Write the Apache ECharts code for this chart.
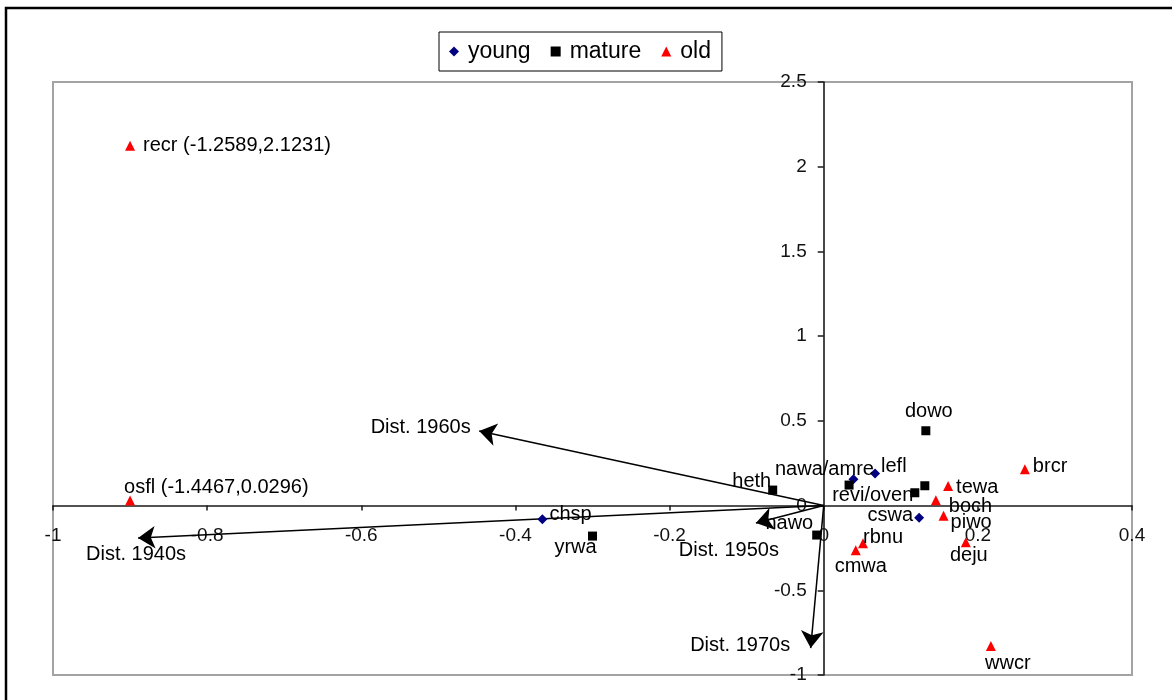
<!DOCTYPE html>
<html><head><meta charset="utf-8">
<script src="https://cdn.jsdelivr.net/npm/echarts@6/dist/echarts.min.js"></script>
<style>html,body{margin:0;padding:0;background:#fff}#c{width:1172px;height:700px}</style>
</head><body><div id="c"></div>
<script>
// ---- data ----
const youngPoints = [
  [0.0386, 0.156, 'nawa/amre'],
  [0.0666, 0.190, 'lefl'],
  [0.1238, -0.072, 'cswa'],
  [-0.365, -0.080, 'chsp']
];
const maturePoints = [
  [0.0329, 0.121, ''],
  [0.1325, 0.4416, 'dowo'],
  [0.1312, 0.117, ''],
  [0.1182, 0.0756, 'revi/oven'],
  [-0.0662, 0.0915, 'heth'],
  [-0.0091, -0.174, 'nawo'],
  [-0.300, -0.180, 'yrwa']
];
const oldPoints = [
  [-0.9, 2.1231, 'recr (-1.2589,2.1231)'],
  [-0.9, 0.0296, 'osfl (-1.4467,0.0296)'],
  [0.261, 0.215, 'brcr'],
  [0.1614, 0.115, 'tewa'],
  [0.1455, 0.032, 'boch'],
  [0.1555, -0.060, 'piwo'],
  [0.1844, -0.217, 'deju'],
  [0.051, -0.223, 'rbnu'],
  [0.0416, -0.263, 'cmwa'],
  [0.2169, -0.829, 'wwcr']
];
const vectors = [
  ['Dist. 1940s', -0.8896, -0.192],
  ['Dist. 1950s', -0.088, -0.103],
  ['Dist. 1960s', -0.447, 0.44],
  ['Dist. 1970s', -0.0169, -0.841]
];
const xTicks = { min: -1, max: 0.4, step: 0.2 };
const yTicks = { min: -1, max: 2.5, step: 0.5 };

// ---- label placement (layout only) ----
const labelPlacement = {
  'recr (-1.2589,2.1231)': ['right', 3, 0],
  'osfl (-1.4467,0.0296)': ['right', -16, -13],
  'dowo': ['top', 3, 0],
  'lefl': ['right', -4, -7],
  'nawa/amre': ['top', -29, 10],
  'revi/oven': ['left', 8, 3],
  'tewa': ['right', -2, 1],
  'boch': ['right', 3, 6],
  'piwo': ['right', -3, 7],
  'deju': ['bottom', 3, -7],
  'cswa': ['left', 4, -2],
  'rbnu': ['right', -10, -6],
  'cmwa': ['bottom', 5, -4],
  'brcr': ['right', -2, -3],
  'nawo': ['left', 6, -12],
  'yrwa': ['bottom', -17, -8],
  'chsp': ['right', -3, -5],
  'wwcr': ['bottom', 17, -3],
  'heth': ['left', 8, -9],
  'Dist. 1960s': ['left', -3, -4],
  'Dist. 1940s': ['bottom', -2, 1],
  'Dist. 1950s': ['bottom', -27, 12],
  'Dist. 1970s': ['left', -15, -3]
};

const FONT = '"Liberation Sans", Arial, sans-serif';
const W = 1172, H = 700;
const G = { left: 53, right: 40, top: 82, bottom: 25 };
const gw = W - G.left - G.right, gh = H - G.top - G.bottom;
// place axes through the origin (offset from grid edge)
const yAxisOffset = -gw * (0 - xTicks.min) / (xTicks.max - xTicks.min);
const xAxisOffset = -gh * (0 - yTicks.min) / (yTicks.max - yTicks.min);

function toItems(points) {
  return points.map(p => {
    const pl = labelPlacement[p[2]];
    return {
      value: [p[0], p[1]],
      name: p[2],
      label: pl ? { show: true, position: pl[0], offset: [pl[1], pl[2]] } : { show: false }
    };
  });
}
const labelBase = { show: true, formatter: '{b}', color: '#000', fontSize: 20, fontFamily: FONT, distance: 5 };
const AXIS_COLOR = '#1a1a1a';

const chart = echarts.init(document.getElementById('c'), null, { renderer: 'canvas' });
chart.setOption({
  animation: false,
  backgroundColor: '#fff',
  graphic: [{
    type: 'rect', z: 100, silent: true,
    shape: { x: 6, y: 8, width: 1300, height: 800 },
    style: { fill: 'none', stroke: '#000', lineWidth: 2.5 }
  }],
  legend: {
    data: [
      { name: 'young', icon: 'diamond' },
      { name: 'mature', icon: 'rect' },
      { name: 'old', icon: 'triangle' }
    ],
    left: 439, top: 32,
    padding: [8, 11, 8, 10],
    itemWidth: 10, itemHeight: 10, itemGap: 20,
    borderColor: '#000', borderWidth: 1,
    textStyle: { fontSize: 23, fontFamily: FONT, color: '#000', padding: [0, 0, 0, 4] }
  },
  grid: {
    left: G.left, right: G.right, top: G.top, bottom: G.bottom,
    outerBoundsMode: 'none', containLabel: false,
    show: true, borderColor: '#a3a3a3', borderWidth: 2, backgroundColor: '#fff'
  },
  xAxis: {
    type: 'value', min: xTicks.min, max: xTicks.max, interval: xTicks.step,
    position: 'bottom', offset: xAxisOffset,
    axisLine: { onZero: false, lineStyle: { color: AXIS_COLOR, width: 1.6 } },
    axisTick: { show: true, length: 5, lineStyle: { color: AXIS_COLOR, width: 1.5 } },
    axisLabel: { fontSize: 19, fontFamily: FONT, color: '#111', margin: 21 },
    splitLine: { show: false }
  },
  yAxis: {
    type: 'value', min: yTicks.min, max: yTicks.max, interval: yTicks.step,
    position: 'left', offset: yAxisOffset,
    axisLine: { onZero: false, lineStyle: { color: AXIS_COLOR, width: 1.6 } },
    axisTick: { show: true, length: 6, lineStyle: { color: AXIS_COLOR, width: 1.5 } },
    axisLabel: { fontSize: 19, fontFamily: FONT, color: '#111', margin: 17 },
    splitLine: { show: false }
  },
  series: [
    {
      type: 'lines', coordinateSystem: 'cartesian2d', z: 3,
      symbol: ['none', 'arrow'], symbolSize: 17,
      lineStyle: { color: '#000', width: 1.5, opacity: 1, curveness: 0 },
      data: vectors.map(v => ({ coords: [[0, 0], [v[1], v[2]]] }))
    },
    {
      type: 'scatter', name: 'vectorLabels', z: 4, symbolSize: 1,
      itemStyle: { color: 'rgba(0,0,0,0)', opacity: 1 },
      label: labelBase,
      data: toItems(vectors.map(v => [v[1], v[2], v[0]]))
    },
    {
      type: 'scatter', name: 'young', symbol: 'diamond', symbolSize: 10, z: 5,
      itemStyle: { color: '#000080', opacity: 1 }, label: labelBase,
      data: toItems(youngPoints)
    },
    {
      type: 'scatter', name: 'mature', symbol: 'rect', symbolSize: 9, z: 5,
      itemStyle: { color: '#000', opacity: 1 }, label: labelBase,
      data: toItems(maturePoints)
    },
    {
      type: 'scatter', name: 'old', symbol: 'triangle', symbolSize: 10, z: 5,
      itemStyle: { color: '#ff0000', opacity: 1 }, label: labelBase,
      data: toItems(oldPoints)
    }
  ]
});
</script>
</body></html>
